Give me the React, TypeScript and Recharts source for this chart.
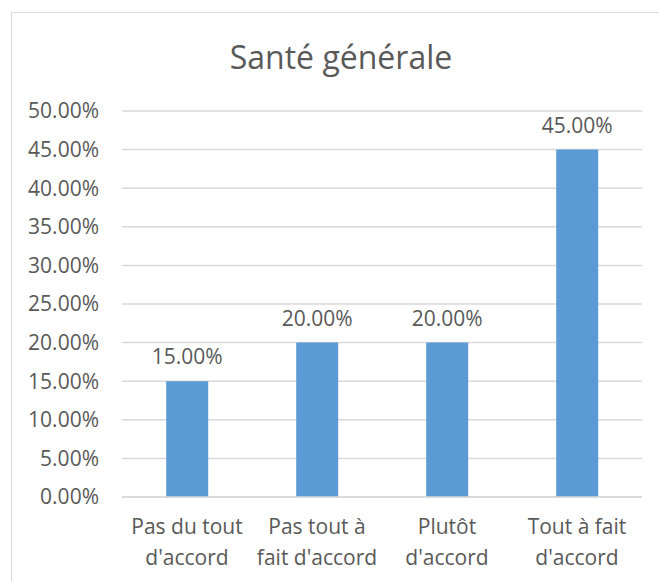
import React from 'react';
import { BarChart, Bar, XAxis, YAxis, CartesianGrid, LabelList } from 'recharts';

const categories = ['Pas du tout\nd\'accord', 'Pas tout à\nfait d\'accord', 'Plutôt\nd\'accord', 'Tout à fait\nd\'accord'];
const values = [0.15, 0.2, 0.2, 0.45];
const yTicks = [0, 0.05, 0.1, 0.15, 0.2, 0.25, 0.3, 0.35, 0.4, 0.45, 0.5];

const data = categories.map((name, i) => ({ name, value: values[i] }));

const FONT = '"Open Sans", sans-serif';
const GREY = '#595959';

const pct = (v: number) => `${(v * 100).toFixed(2)}%`;

function CategoryTick({ x, y, payload }: any) {
  const lines = String(payload.value).split('\n');
  return (
    <text x={x} y={y} textAnchor="middle" fill={GREY} fontSize={21} fontFamily={FONT}>
      {lines.map((l, i) => (
        <tspan key={i} x={x} dy={i === 0 ? 29 : 31}>{l}</tspan>
      ))}
    </text>
  );
}

export default function App() {
  return (
    <div style={{ position: 'absolute', left: 0, top: 0, width: 659, height: 581, background: '#fff', overflow: 'hidden' }}>
      <div style={{ position: 'absolute', left: 11, top: 12, width: 660, height: 600, border: '1px solid #d9d9d9', boxSizing: 'border-box' }} />
      <div style={{ position: 'absolute', left: 0, top: 35, width: 682, textAlign: 'center', fontFamily: FONT, fontSize: 32, color: GREY }}>
        Santé générale
      </div>
      <div style={{ position: 'absolute', left: 0, top: 0 }}>
        <BarChart width={659} height={581} data={data} margin={{ top: 111, right: 17, bottom: 0, left: 0 }} barCategoryGap="34%">
          <CartesianGrid vertical={false} stroke="#d9d9d9" strokeWidth={1.5} />
          <XAxis
            dataKey="name"
            height={84}
            tick={<CategoryTick />}
            tickLine={false}
            axisLine={{ stroke: '#d9d9d9', strokeWidth: 1.5 }}
            interval={0}
          />
          <YAxis
            width={122}
            domain={[0, 0.5]}
            ticks={yTicks}
            tickFormatter={pct}
            tickLine={false}
            axisLine={false}
            tickSize={0}
            tickMargin={23}
            tick={{ fill: GREY, fontSize: 21, fontFamily: FONT }}
          />
          <Bar dataKey="value" fill="#5b9bd5" isAnimationActive={false}>
            <LabelList dataKey="value" position="top" offset={17} formatter={(v: any) => pct(Number(v))} fill={GREY} fontSize={21} fontFamily={FONT} />
          </Bar>
        </BarChart>
      </div>
    </div>
  );
}
